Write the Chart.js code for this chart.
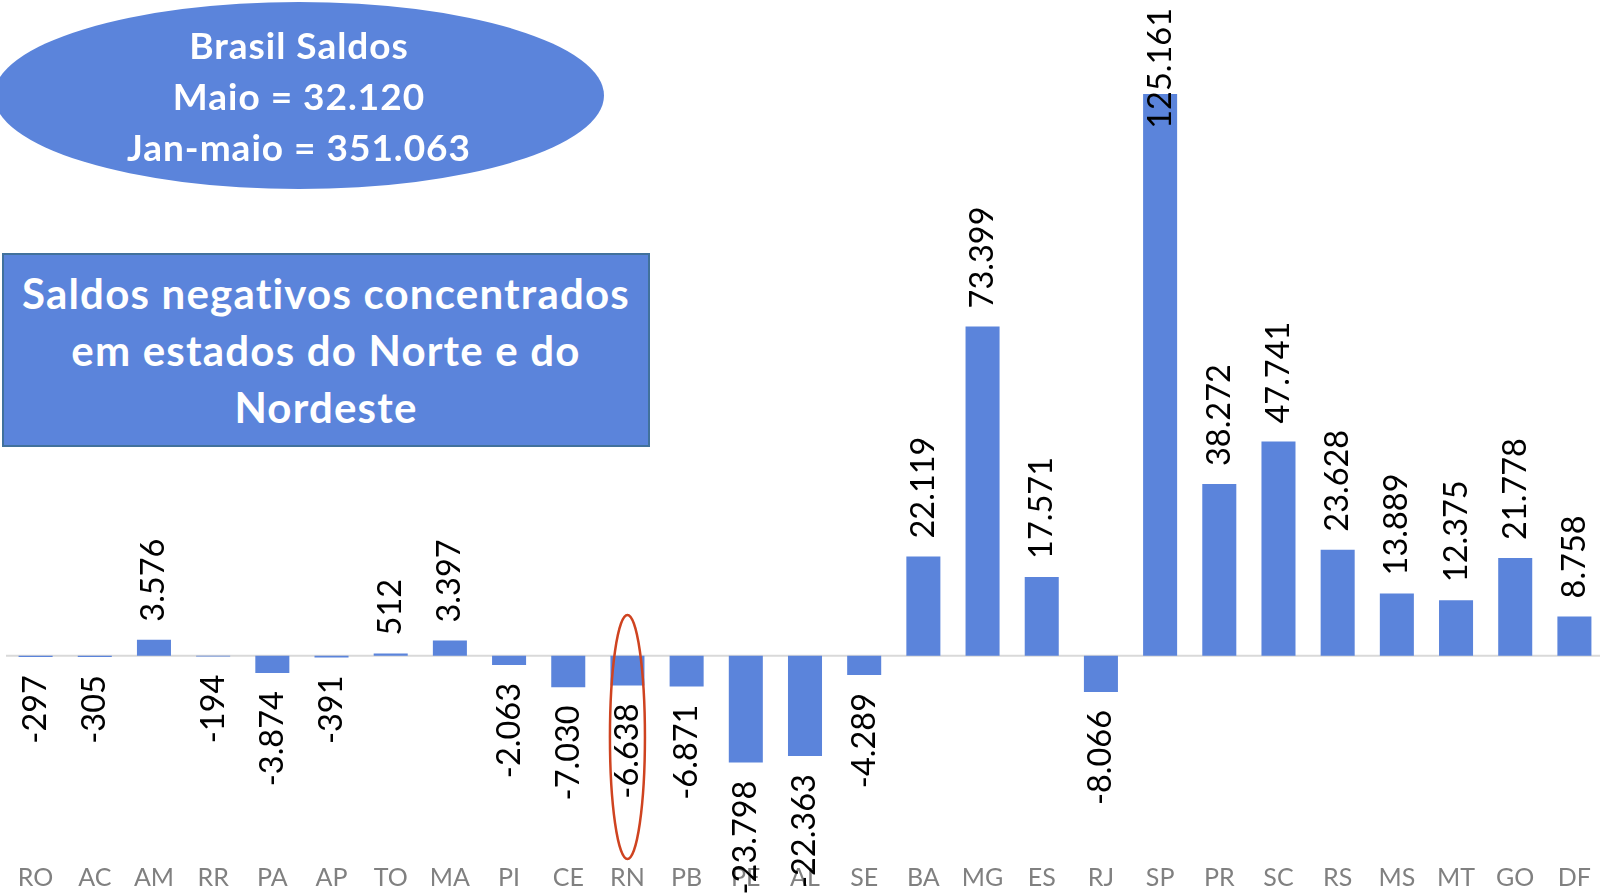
<!DOCTYPE html>
<html lang="pt">
<head>
  <meta charset="UTF-8">
  <title>Saldos por UF</title>
  <script src="https://cdn.jsdelivr.net/npm/chart.js"></script>
  <style>
    body {
      margin: 0;
      background: #fff;
      overflow: hidden;
      font-family: 'Lato', sans-serif;
    }

    .wrap {
      position: relative;
      width: 1600px;
      height: 893px;
      overflow: hidden;
    }

    .oval {
      position: absolute;
      left: -6px;
      top: 2px;
      width: 610px;
      height: 187px;
      border-radius: 50%;
      background: #5b84db;
      color: #fff;
      font-weight: bold;
      font-size: 37px;
      letter-spacing: 1px;
      line-height: 51px;
      display: flex;
      flex-direction: column;
      align-items: center;
      justify-content: center;
    }

    .box {
      position: absolute;
      left: 2px;
      top: 253px;
      width: 644px;
      height: 190px;
      background: #5b84db;
      border: 2px solid #41719c;
      color: #fff;
      font-weight: bold;
      font-size: 42px;
      letter-spacing: 1.2px;
      line-height: 57px;
      text-align: center;
      display: flex;
      align-items: center;
      justify-content: center;
    }
  </style>
</head>
<body>
  <div class="wrap">
    <canvas id="saldosChart" width="1610" height="893"></canvas>
    <div class="oval">
      <div>Brasil Saldos</div>
      <div>Maio = 32.120</div>
      <div>Jan-maio = 351.063</div>
    </div>
    <div class="box">
      <div>Saldos negativos concentrados<br>em estados do Norte e do<br>Nordeste</div>
    </div>
  </div>

  <script>
    // saldos de emprego por UF (maio)
    const ufs = ["RO", "AC", "AM", "RR", "PA", "AP", "TO", "MA", "PI", "CE", "RN", "PB", "PE", "AL", "SE",
      "BA", "MG", "ES", "RJ", "SP", "PR", "SC", "RS", "MS", "MT", "GO", "DF"];
    const saldos = [-297, -305, 3576, -194, -3874, -391, 512, 3397, -2063, -7030, -6638, -6871, -23798, -22363, -4289,
      22119, 73399, 17571, -8066, 125161, 38272, 47741, 23628, 13889, 12375, 21778, 8758];
    const destaque = "RN";

    // 1.234 style numbers
    function fmt(v) {
      const s = Math.abs(v).toString().replace(/\B(?=(\d{3})+(?!\d))/g, ".");
      return (v < 0 ? "-" : "") + s;
    }

    // zero line behind the bars
    const zeroLine = {
      id: "zeroLine",
      beforeDatasetsDraw(chart) {
        const { ctx, chartArea, scales } = chart;
        const y = scales.y.getPixelForValue(0);
        ctx.save();
        ctx.strokeStyle = "#d9d9d9";
        ctx.lineWidth = 2;
        ctx.beginPath();
        ctx.moveTo(chartArea.left, y);
        ctx.lineTo(chartArea.right, y);
        ctx.stroke();
        ctx.restore();
      }
    };

    // vertical value labels
    const valueLabels = {
      id: "valueLabels",
      afterDatasetsDraw(chart) {
        const { ctx } = chart;
        const bars = chart.getDatasetMeta(0).data;
        ctx.save();
        ctx.font = "32.5px Lato";
        ctx.fillStyle = "#000";
        ctx.textBaseline = "middle";
        bars.forEach((bar, i) => {
          const v = saldos[i];
          const txt = fmt(v);
          const w = ctx.measureText(txt).width;
          ctx.save();
          if (v >= 0) {
            let y = bar.y - 18;
            if (y - w < 8) y = 8 + w;
            ctx.translate(bar.x, y);
            ctx.rotate(-Math.PI / 2);
            ctx.textAlign = "left";
          } else {
            ctx.translate(bar.x, bar.y + 18);
            ctx.rotate(-Math.PI / 2);
            ctx.textAlign = "right";
          }
          ctx.fillText(txt, 0, 0);
          ctx.restore();
        });
        ctx.restore();
      }
    };

    // red oval around the highlighted state
    const highlight = {
      id: "highlight",
      afterDraw(chart) {
        const idx = ufs.indexOf(destaque);
        const bar = chart.getDatasetMeta(0).data[idx];
        const { ctx } = chart;
        ctx.save();
        ctx.strokeStyle = "#cf4320";
        ctx.lineWidth = 2.5;
        ctx.beginPath();
        ctx.ellipse(bar.x, 737, 17.5, 122, 0, 0, Math.PI * 2);
        ctx.stroke();
        ctx.restore();
      }
    };

    const ctx = document.getElementById("saldosChart").getContext("2d");
    new Chart(ctx, {
      type: "bar",
      data: {
        labels: ufs,
        datasets: [{
          data: saldos,
          backgroundColor: "#5b84db",
          borderWidth: 0,
          categoryPercentage: 1,
          barPercentage: 0.575
        }]
      },
      options: {
        responsive: false,
        animation: false,
        layout: { padding: { left: 6, right: 6, top: 0, bottom: 0 } },
        plugins: {
          legend: { display: false },
          tooltip: { enabled: false }
        },
        scales: {
          x: {
            grid: { display: false, drawTicks: false },
            border: { display: false },
            ticks: {
              color: "#808080",
              font: { family: "Lato", size: 25 },
              padding: 0,
              maxRotation: 0,
              autoSkip: false
            }
          },
          y: {
            display: false,
            min: -46189,
            max: 146133
          }
        }
      },
      plugins: [zeroLine, valueLabels, highlight]
    });
  </script>
</body>
</html>
